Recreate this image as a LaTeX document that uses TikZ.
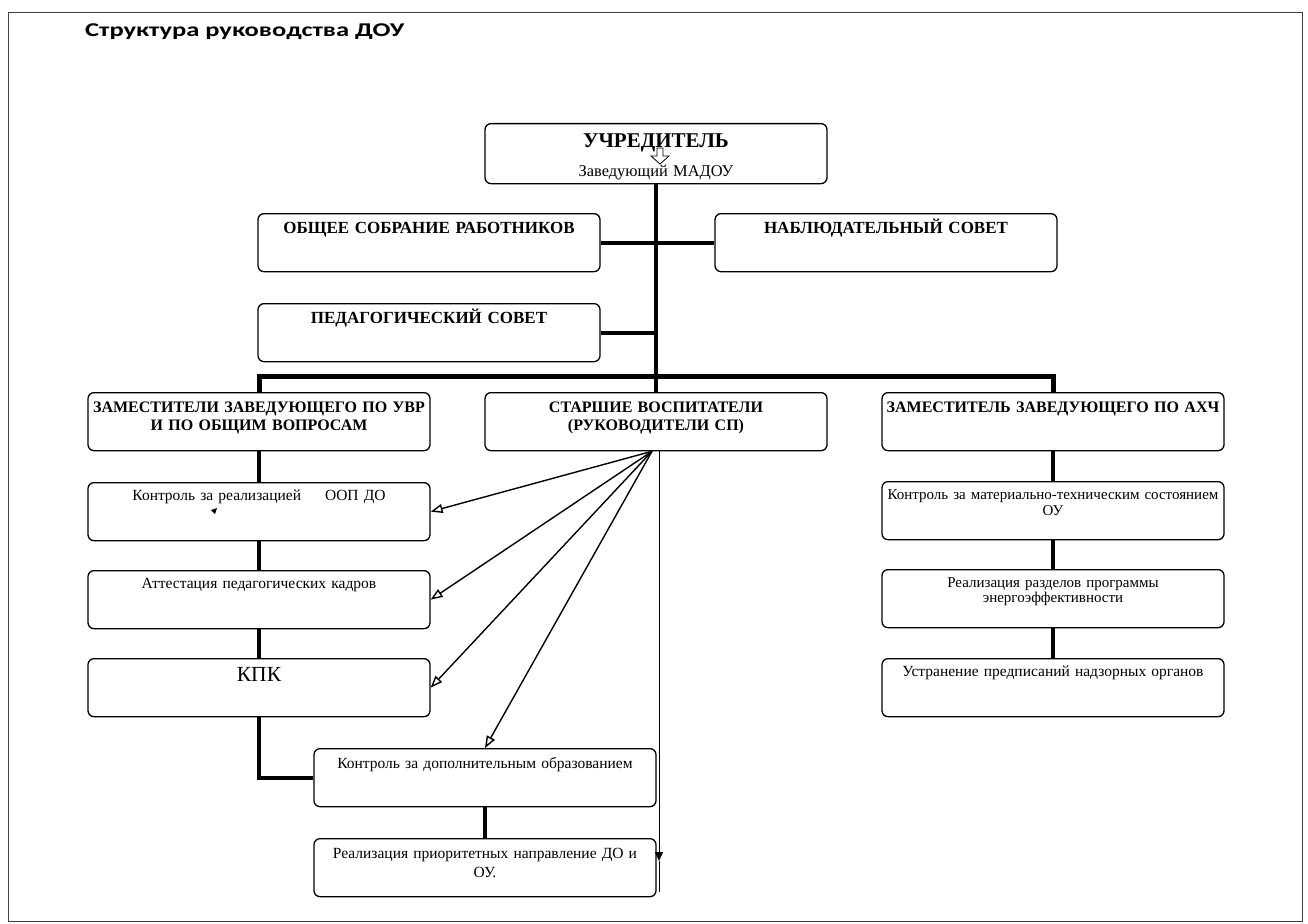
\documentclass[tikz,border=0pt]{standalone}
\usepackage{fontspec}
\setmainfont{Liberation Serif}
\newfontfamily\headfont[FakeStretch=1.36]{Carlito}
\usetikzlibrary{arrows.meta}

\tikzset{
    box/.style={draw, line width=1.3pt, rounded corners=6pt, anchor=north, align=center,
        text width=340pt, inner xsep=1pt, inner ysep=4pt, text height=16pt, text depth=34pt,
        font=\bfseries\fontsize{16}{18}\selectfont},
    topbox/.style={box, font=\bfseries\fontsize{17}{19}\selectfont},
    subbox/.style={box, text height=14pt, text depth=36pt, font=\fontsize{15.5}{17}\selectfont},
    link/.style={line width=4pt},
    ray/.style={line width=1.4pt, -{Triangle[open, length=12pt, width=9pt]}},
    thinline/.style={line width=1pt},
}

\begin{document}
\begin{tikzpicture}[x=1pt, y=-1pt]
    \useasboundingbox (0,0) rectangle (1308,923);
    \draw[line width=0.8pt, black!75] (8,12) rectangle (1302,921);
    \node[font=\headfont\bfseries\fontsize{19.5}{22}\selectfont, anchor=base west, inner sep=0pt] (title) at (85,37) {Структура руководства ДОУ};

    \node[box, text height=20pt, text depth=32pt] (uchr) at (656,123) {{\fontsize{21}{22}\selectfont УЧРЕДИТЕЛЬ}\\[11pt]{\mdseries\fontsize{16.4}{18}\selectfont Заведующий МАДОУ}};
    \draw[line width=0.8pt, fill=white] (657,148) -- (663,148) -- (663,156) -- (669,156) -- (660,164) -- (651,156) -- (657,156) -- cycle;

    \node[topbox] (obs) at (429,213) {ОБЩЕЕ СОБРАНИЕ РАБОТНИКОВ};
    \node[topbox] (nab) at (886,213) {НАБЛЮДАТЕЛЬНЫЙ СОВЕТ};
    \node[topbox] (ped) at (429,303) {ПЕДАГОГИЧЕСКИЙ СОВЕТ};

    \node[box] (zam) at (259,392) {ЗАМЕСТИТЕЛИ ЗАВЕДУЮЩЕГО ПО УВР\\И ПО ОБЩИМ ВОПРОСАМ};
    \node[box] (star) at (656,392) {СТАРШИЕ ВОСПИТАТЕЛИ\\(РУКОВОДИТЕЛИ СП)};
    \node[box] (ahch) at (1053,392) {ЗАМЕСТИТЕЛЬ ЗАВЕДУЮЩЕГО ПО АХЧ};

    \node[subbox] (oop) at (259,482) {Контроль за реализацией\hspace{24pt}ООП ДО};
    \node[subbox] (att) at (259,570) {Аттестация педагогических кадров};
    \node[subbox, font=\fontsize{21.5}{22}\selectfont, text height=19pt, text depth=31pt] (kpk) at (259,658) {КПК};
    \node[subbox, text height=16pt, text depth=34pt] (dop) at (485,748) {Контроль за дополнительным образованием};
    \node[subbox, text height=16pt, text depth=34pt, font=\fontsize{15.5}{19}\selectfont] (prio) at (485,838) {Реализация приоритетных направление ДО и\\ОУ.};

    \node[subbox, font=\fontsize{15}{16}\selectfont] (mat) at (1053,481) {Контроль за материально-техническим состоянием\\ОУ};
    \node[subbox, font=\fontsize{15}{15}\selectfont] (energ) at (1053,569) {Реализация разделов программы\\энергоэффективности};
    \node[subbox] (nadz) at (1053,658) {Устранение предписаний надзорных органов};

    \fill (211,510) -- (217,508) -- (215,514) -- cycle;

    \draw[link] (uchr.south) -- (star.north);
    \draw[link] (obs.east) -- (nab.west);
    \draw[link] (ped.east) -- (ped.east -| uchr.south);
    \draw[link, line width=5pt] (zam.north) -- ++(0,-16) -| (ahch.north);

    \draw[link] (zam.south) -- (oop.north);
    \draw[link] (oop.south) -- (att.north);
    \draw[link] (att.south) -- (kpk.north);
    \draw[link] (kpk.south) |- (dop.west);
    \draw[link] (dop.south) -- (prio.north);

    \draw[link] (ahch.south) -- (mat.north);
    \draw[link] (mat.south) -- (energ.north);
    \draw[link] (energ.south) -- (nadz.north);

    \coordinate (fan) at ([xshift=-4pt]star.south);
    \draw[ray] (fan) -- (oop.east);
    \draw[ray] (fan) -- (att.east);
    \draw[ray] (fan) -- (kpk.east);
    \draw[ray] (fan) -- (dop.north);

    \coordinate (downtip) at (659,861);
    \coordinate (downend) at (659,892);
    \draw[thinline, -{Triangle[length=9pt, width=8pt]}] ([xshift=3pt]star.south) -- (downtip);
    \draw[thinline] (downtip) -- (downend);
\end{tikzpicture}
\end{document}
